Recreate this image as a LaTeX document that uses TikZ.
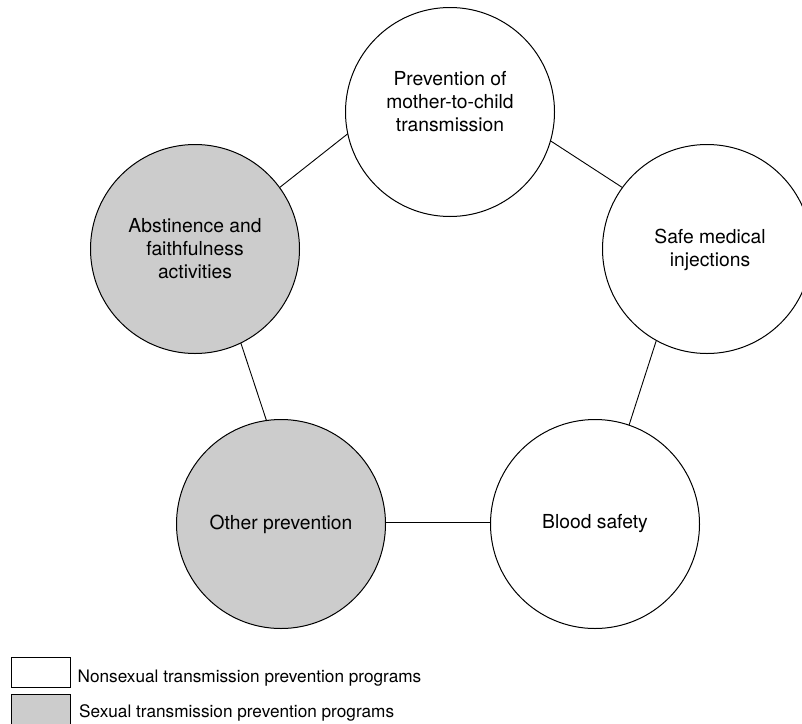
\documentclass[tikz,border=0pt]{standalone}
\usepackage{fontspec}
\setmainfont{TeX Gyre Heros}
\definecolor{sexgray}{RGB}{204,204,204}
\tikzset{
  bubble/.style={circle, draw=black, line width=1pt, minimum size=209pt, inner sep=0pt, outer sep=0pt},
  nonsex/.style={bubble, fill=white},
  sexual/.style={bubble, fill=sexgray},
  btext/.style={align=center, font=\fontsize{19.3}{23}\selectfont, inner sep=0pt},
  link/.style={draw=black, line width=0.9pt},
  legbox/.style={draw=black, line width=0.9pt, minimum width=59pt, minimum height=30pt, inner sep=0pt, outer sep=0pt},
  legtext/.style={anchor=base west, font=\fontsize{17.2}{20}\selectfont, inner sep=0pt}
}
\begin{document}
\begin{tikzpicture}[x=1pt, y=-1pt]
\useasboundingbox (0,0) rectangle (802,723);
\clip (0,0) rectangle (802,723);
\node[nonsex] (ptc) at (450,112) {};
\node[sexual] (abs) at (195,249) {};
\node[nonsex] (inj) at (707,249) {};
\node[sexual] (oth) at (281,524) {};
\node[nonsex] (blood) at (595,524) {};
\node[btext] (tptc) at (450,102) {Prevention of\\mother-to-child\\transmission};
\node[btext] (tabs) at (195,249) {Abstinence and\\faithfulness\\activities};
\node[btext] (tinj) at (710,250) {Safe medical\\injections};
\node[btext] (toth) at (281,524) {Other prevention};
\node[btext] (tblood) at (595,524) {Blood safety};
\draw[link] (abs.36.8) -- (ptc.192.6);
\draw[link] (ptc.344.7) -- (inj.144.9);
\draw[link] (inj.241.3) -- (blood.71.1);
\draw[link] (abs.296.5) -- (oth.98.7);
\draw[link] (oth.1) -- (blood.179);
\node[legbox, fill=white] (lw) at (41.2,672) {};
\node[legbox, fill=sexgray] (lg) at (41.2,709) {};
\node[legtext] (lwt) at (77.5,682) {Nonsexual transmission prevention programs};
\node[legtext] (lgt) at (79,717) {Sexual transmission prevention programs};
\end{tikzpicture}
\end{document}
